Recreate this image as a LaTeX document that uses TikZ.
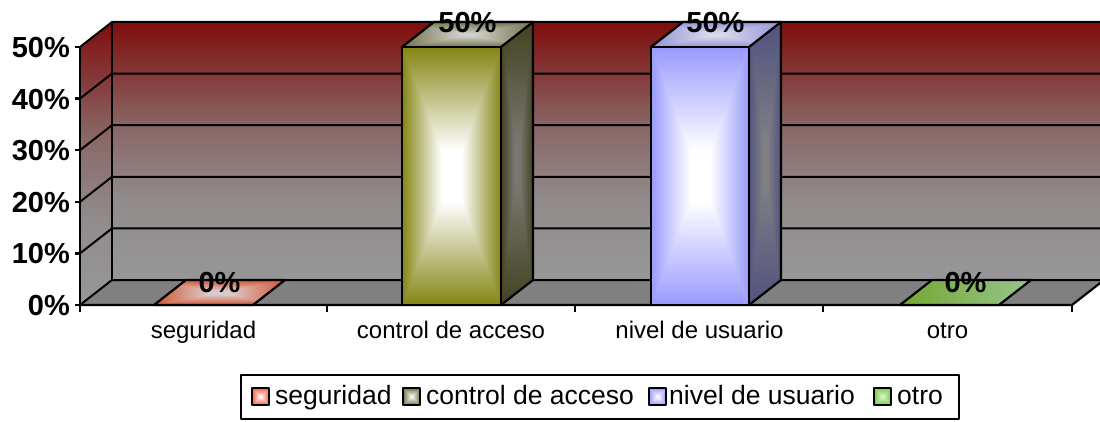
\documentclass[tikz,border=0pt]{standalone}
\usepackage{fontspec}
\setmainfont{Liberation Sans}
\usetikzlibrary{calc}
% rectangle ("from centre") gradient: name, plateau, edge rgb, centre rgb
\newcommand\rectshade[8]{%
\pgfdeclarefunctionalshading{#1}{\pgfpoint{-50bp}{-50bp}}{\pgfpoint{50bp}{50bp}}{}{%
abs exch abs 2 copy gt {pop} {exch pop} ifelse
25 div #2 sub 1 #2 sub div
dup 0 lt {pop 0} if dup 1 gt {pop 1} if
dup dup
#3 #6 sub mul #6 add
3 1 roll
#4 #7 sub mul #7 add
exch
#5 #8 sub mul #8 add
}}
\rectshade{cfront}{0.2}{0.52}{0.52}{0.08}{1}{1}{1}
\rectshade{cside}{0.15}{0.26}{0.26}{0.13}{0.47}{0.47}{0.44}
\rectshade{ctop}{0.1}{0.45}{0.45}{0.3}{0.82}{0.82}{0.8}
\rectshade{nfront}{0.2}{0.6}{0.6}{1}{1}{1}{1}
\rectshade{nside}{0.15}{0.32}{0.32}{0.5}{0.5}{0.5}{0.52}
\rectshade{ntop}{0.1}{0.58}{0.58}{0.85}{0.85}{0.85}{0.92}
\rectshade{stop}{0.15}{0.82}{0.33}{0.2}{0.86}{0.8}{0.8}
\rectshade{lseg}{0.0}{1}{0.35}{0.25}{1}{1}{1}
\rectshade{lcon}{0.0}{0.45}{0.45}{0.28}{1}{1}{1}
\rectshade{lniv}{0.0}{0.6}{0.6}{1}{1}{1}{1}
\rectshade{lotr}{0.0}{0.5}{0.78}{0.3}{0.85}{0.97}{0.8}
\pgfdeclareverticalshading{wall}{100bp}{rgb(0bp)=(0.59,0.59,0.59); rgb(25bp)=(0.59,0.59,0.59); rgb(40bp)=(0.57,0.55,0.55); rgb(55bp)=(0.54,0.40,0.40); rgb(75bp)=(0.5,0.05,0.05); rgb(100bp)=(0.5,0.05,0.05)}
\definecolor{floorc}{RGB}{128,128,128}
\definecolor{otrol}{RGB}{118,165,50}
\definecolor{otror}{RGB}{150,198,140}
\tikzset{
  edge/.style={line width=2.2pt, black},
  grid/.style={line width=2pt, black},
  ylab/.style={font=\fontsize{29}{34}\selectfont\bfseries, inner sep=0pt},
  vlab/.style={font=\fontsize{29}{34}\selectfont\bfseries, inner sep=0pt, anchor=base},
  cat/.style={font=\fontsize{24}{28}\selectfont, inner sep=0pt, anchor=base},
  leg/.style={font=\fontsize{26.5}{30}\selectfont, inner sep=0pt, anchor=base west},
  sw/.style={line width=1.5pt, black}
}
\begin{document}
\begin{tikzpicture}[x=1pt,y=-1pt,line join=round]
\useasboundingbox (0,0) rectangle (1100,422);
\clip (0,0) rectangle (1100,422);
% walls and floor
\shade[shading=wall] (112,22) rectangle (1112,280);
\shade[shading=wall] (80,47) -- (112,22) -- (112,280) -- (80,305) -- cycle;
\fill[floorc] (80,305) -- (1072,305) -- (1104,280) -- (112,280) -- cycle;
% grid lines and y axis
\foreach \k in {0,...,5} {
  \pgfmathsetmacro\yb{280-51.6*\k}
  \pgfmathsetmacro\yf{305-51.6*\k}
  \draw[grid] (80,\yf) -- (112,\yb) -- (1112,\yb);
  \draw[edge] (80,\yf) -- (75,\yf);
  \node[ylab, anchor=base east] (ylab\k) at (70,\yf+10.5) {\the\numexpr\k*10\relax\%};
}
\draw[edge] (80,47) -- (80,305);
\draw[edge] (112,22) -- (112,280);
\draw[edge] (80,305) -- (1072,305) -- (1104,280);
\foreach \x in {80,327,575,823,1072} \draw[edge] (\x,305) -- (\x,312);
% flat bars (0%)
\shade[shading=stop] (154,305) -- (253,305) -- (285,280) -- (186,280) -- cycle;
\draw[edge] (154,305) -- (253,305) -- (285,280) -- (186,280) -- cycle;
\shade[left color=otrol, right color=otror] (900,305) -- (999,305) -- (1031,280) -- (932,280) -- cycle;
\draw[edge] (900,305) -- (999,305) -- (1031,280) -- (932,280) -- cycle;
% control de acceso
\shade[shading=cfront] (402,47) rectangle (501,305);
\shade[shading=cside] (501,47) -- (533,22) -- (533,280) -- (501,305) -- cycle;
\shade[shading=ctop] (402,47) -- (501,47) -- (533,22) -- (434,22) -- cycle;
\draw[edge] (402,47) rectangle (501,305);
\draw[edge] (501,47) -- (533,22) -- (533,280) -- (501,305);
\draw[edge] (402,47) -- (434,22) -- (533,22);
% nivel de usuario
\shade[shading=nfront] (651,47) rectangle (749,305);
\shade[shading=nside] (749,47) -- (781,22) -- (781,280) -- (749,305) -- cycle;
\shade[shading=ntop] (651,47) -- (749,47) -- (781,22) -- (683,22) -- cycle;
\draw[edge] (651,47) rectangle (749,305);
\draw[edge] (749,47) -- (781,22) -- (781,280) -- (749,305);
\draw[edge] (651,47) -- (683,22) -- (781,22);
% value labels
\node[vlab] (val1) at (219.5,292) {0\%};
\node[vlab] (val2) at (467.5,32.5) {50\%};
\node[vlab] (val3) at (715.5,32.5) {50\%};
\node[vlab] (val4) at (965.5,292) {0\%};
% category labels
\node[cat] (cat1) at (203.5,338) {seguridad};
\node[cat] (cat2) at (451,338) {control de acceso};
\node[cat] (cat3) at (699.5,338) {nivel de usuario};
\node[cat] (cat4) at (947.5,338) {otro};
% legend
\draw[edge, fill=white] (241,375) rectangle (959,419);
\shade[shading=lseg] (252,388) rectangle (269,405); \draw[sw] (252,388) rectangle (269,405);
\shade[shading=lcon] (403,388) rectangle (420,405); \draw[sw] (403,388) rectangle (420,405);
\shade[shading=lniv] (649,388) rectangle (666,405); \draw[sw] (649,388) rectangle (666,405);
\shade[shading=lotr] (874,388) rectangle (891,405); \draw[sw] (874,388) rectangle (891,405);
\node[leg] (leg1) at (275,404) {seguridad};
\node[leg] (leg2) at (426,404) {control de acceso};
\node[leg] (leg3) at (669,404) {nivel de usuario};
\node[leg] (leg4) at (897,404) {otro};
\end{tikzpicture}
\end{document}
